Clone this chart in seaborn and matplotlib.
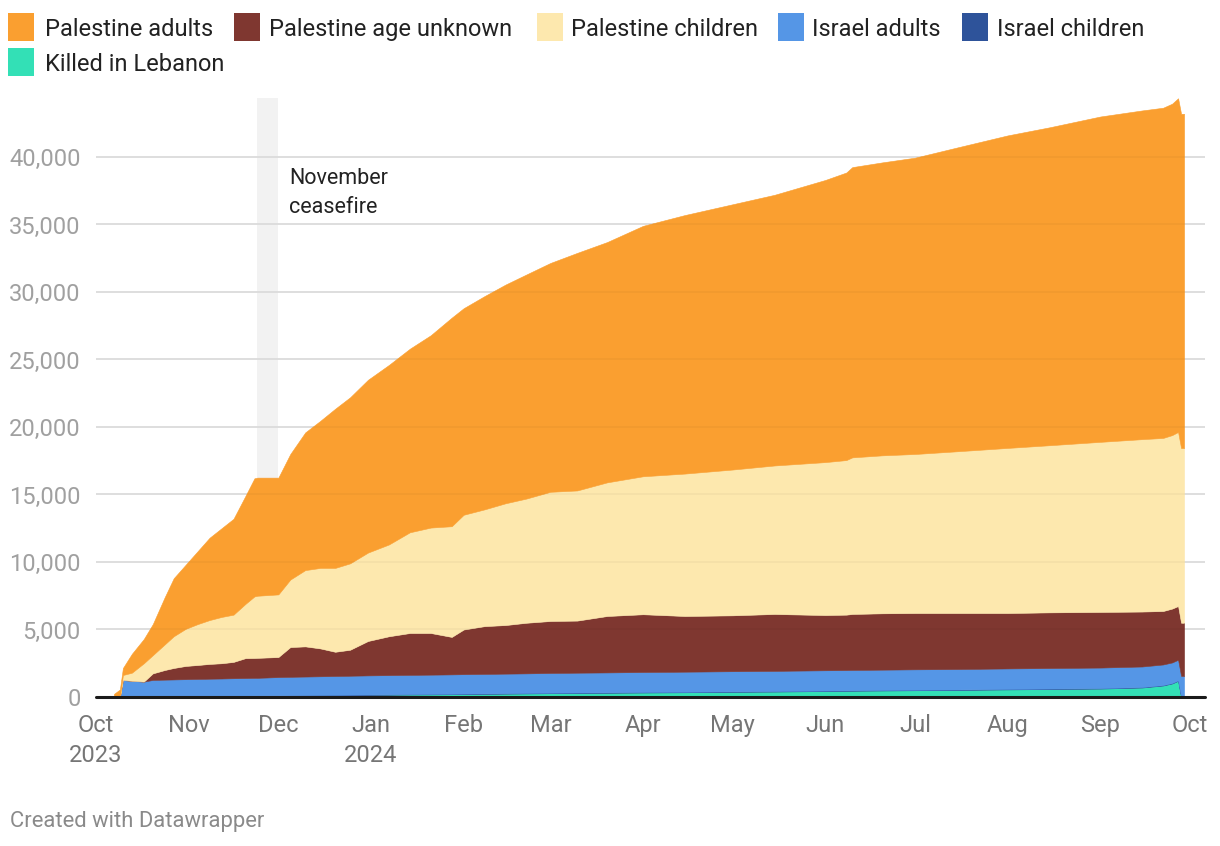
import pandas as pd
import matplotlib
matplotlib.use("Agg")
import matplotlib.pyplot as plt
import seaborn as sns
from matplotlib.patches import Rectangle

# =====================================================
# DATA
# =====================================================

dates = [
    "2023-10-07", "2023-10-09", "2023-10-10", "2023-10-13", "2023-10-17",
    "2023-10-20", "2023-10-24", "2023-10-27", "2023-10-31", "2023-11-04",
    "2023-11-08", "2023-11-12", "2023-11-16", "2023-11-20", "2023-11-23",
    "2023-11-24", "2023-12-01", "2023-12-05", "2023-12-10", "2023-12-15",
    "2023-12-20", "2023-12-25", "2023-12-31", "2024-01-07", "2024-01-14",
    "2024-01-21", "2024-01-28", "2024-02-01", "2024-02-08", "2024-02-15",
    "2024-02-22", "2024-03-01", "2024-03-10", "2024-03-20", "2024-04-01",
    "2024-04-15", "2024-05-01", "2024-05-15", "2024-06-01", "2024-06-08",
    "2024-06-10", "2024-06-20", "2024-07-01", "2024-07-15", "2024-08-01",
    "2024-08-15", "2024-09-01", "2024-09-15", "2024-09-22", "2024-09-25",
    "2024-09-27", "2024-09-28", "2024-09-29",
]

killed_lebanon = [
    0, 0, 0, 0, 10, 15, 25, 30, 40, 50, 55, 60, 70, 75, 80, 80, 85,
    95, 105, 115, 125, 135, 150, 165, 180, 190, 205, 215, 230, 245, 260,
    280, 295, 310, 330, 350, 380, 400, 440, 455, 460, 480, 500, 520, 560,
    590, 620, 700, 850, 1000, 1200, 0, 0,
]

israel_children = [
    0, 0, 36, 36, 36, 36, 36, 36, 36, 36, 36, 36, 36, 36, 36, 36, 36,
    36, 36, 36, 36, 36, 36, 36, 36, 36, 36, 36, 36, 36, 36, 36, 36, 36,
    36, 36, 36, 36, 36, 36, 36, 36, 36, 36, 36, 36, 36, 36, 36, 36, 36,
    36, 36,
]

israel_adults = [
    0, 0, 1224, 1164, 1094, 1214, 1224, 1234, 1244, 1254, 1264, 1274,
    1284, 1294, 1304, 1304, 1354, 1364, 1374, 1384, 1394, 1404, 1414,
    1419, 1424, 1429, 1434, 1439, 1444, 1449, 1454, 1464, 1469, 1474,
    1484, 1489, 1494, 1499, 1504, 1504, 1509, 1509, 1514, 1514, 1519,
    1519, 1524, 1524, 1524, 1524, 1524, 1524, 1524,
]

palestine_unknown = [
    0, 0, 0, 0, 0, 485, 715, 850, 980, 1030, 1095, 1130, 1210, 1475,
    1470, 1480, 1485, 2205, 2235, 2065, 1795, 1925, 2550, 2880, 3100,
    3085, 2775, 3310, 3540, 3600, 3750, 3850, 3860, 4180, 4280, 4125,
    4140, 4215, 4090, 4105, 4145, 4175, 4170, 4150, 4105, 4125, 4120,
    4070, 3960, 3990, 3980, 3940, 3940,
]

palestine_children = [
    0, 0, 370, 600, 1360, 1350, 1900, 2350, 2750, 3030, 3250, 3430, 3500,
    4020, 4560, 4600, 4640, 5000, 5650, 5960, 6210, 6400, 6550, 6800,
    7460, 7810, 8200, 8500, 8650, 9020, 9200, 9570, 9640, 9900, 10220,
    10550, 10800, 11000, 11330, 11450, 11600, 11700, 11780, 11980, 12230,
    12380, 12600, 12770, 12820, 12850, 12890, 12940, 12940,
]

palestine_adults = [
    230, 560, 520, 1400, 1800, 2300, 3500, 4300, 4750, 5400, 6100, 6570,
    7100, 8000, 8750, 8750, 8650, 9300, 10200, 10890, 11790, 12300,
    12800, 13300, 13600, 14250, 15450, 15300, 15800, 16200, 16600, 16950,
    17600, 17800, 18550, 19150, 19650, 20050, 20900, 21300, 21500, 21700,
    21950, 22500, 23150, 23550, 24100, 24350, 24460, 24550, 24720, 24760,
    24760,
]

legend_labels = [
    "Palestine adults", "Palestine age unknown", "Palestine children",
    "Israel adults", "Israel children", "Killed in Lebanon",
]

legend_colors = [
    "#fa9f30", "#7f3730", "#fde8ae", "#5596e6", "#2e539a", "#33e0b6",
]

month_ticks = [
    "2023-10-01", "2023-11-01", "2023-12-01", "2024-01-01", "2024-02-01",
    "2024-03-01", "2024-04-01", "2024-05-01", "2024-06-01", "2024-07-01",
    "2024-08-01", "2024-09-01", "2024-10-01",
]

month_labels = [
    "Oct\n2023", "Nov", "Dec", "Jan\n2024", "Feb", "Mar", "Apr", "May",
    "Jun", "Jul", "Aug", "Sep", "Oct",
]

y_ticks = [0, 5000, 10000, 15000, 20000, 25000, 30000, 35000, 40000]

# =====================================================
# STYLE
# =====================================================

sns.set_theme(style="white")
plt.rcParams["font.family"] = ["Roboto", "DejaVu Sans"]

W, H = 1220, 846

fig = plt.figure(figsize=(W / 100, H / 100), dpi=100)

ax = fig.add_axes([
    96 / W,
    1 - 697 / H,
    (1205 - 96) / W,
    (697 - 98) / H,
])

x = pd.to_datetime(dates)

# stack order bottom -> top
stack_series = [
    killed_lebanon,
    israel_children,
    israel_adults,
    palestine_unknown,
    palestine_children,
    palestine_adults,
]

stack_colors = [
    "#33e0b6", "#2e539a", "#5596e6", "#7f3730", "#fde8ae", "#fa9f30",
]

polys = ax.stackplot(
    x,
    *stack_series,
    colors=stack_colors,
    linewidth=0.4,
    zorder=2,
)

for p, c in zip(polys, stack_colors):
    p.set_edgecolor(c)

# ceasefire band
ax.axvspan(
    pd.Timestamp("2023-11-24"),
    pd.Timestamp("2023-12-01"),
    color="#f2f2f2",
    lw=0,
    zorder=0.5,
)

# gridlines (behind + faint overlay)
for v in y_ticks[1:]:
    ax.axhline(v, color="#e4e4e4", lw=1.3, zorder=1)
    ax.axhline(v, color="black", alpha=0.035, lw=1.3, zorder=3)

ax.axhline(0, color="#1a1a1a", lw=2.2, zorder=4, clip_on=False)

ax.set_xlim(pd.Timestamp("2023-10-01"), pd.Timestamp("2024-10-06"))
ax.set_ylim(0, 44370)

ax.set_xticks(pd.to_datetime(month_ticks))
ax.set_xticklabels(month_labels, linespacing=1.4)

ax.set_yticks(y_ticks)
ax.set_yticklabels([f"{v:,}" for v in y_ticks])

ax.tick_params(axis="x", length=0, pad=12, labelsize=17, labelcolor="#767676")
ax.tick_params(axis="y", length=0, pad=11, labelsize=17, labelcolor="#a0a0a0")

ax.grid(False)
sns.despine(ax=ax, left=True, bottom=True)
ax.set_facecolor("white")

# annotation
fig.text(
    289 / W, 1 - 193 / H,
    "November\nceasefire",
    ha="left", va="center",
    fontsize=15.5, color="#222222",
    linespacing=1.5,
)

# legend (manual, Datawrapper style)
legend_pos = [
    (8, 45, 27),
    (234, 269, 27),
    (537, 571, 27),
    (778, 812, 27),
    (962, 997, 27),
    (8, 45, 62),
]

for (sx, tx, cy), lab, col in zip(legend_pos, legend_labels, legend_colors):
    fig.patches.append(Rectangle(
        (sx / W, 1 - (cy + 14) / H),
        26 / W, 28 / H,
        transform=fig.transFigure,
        facecolor=col, edgecolor="none",
    ))
    fig.text(
        tx / W, 1 - cy / H, lab,
        ha="left", va="center_baseline",
        fontsize=17, color="#222222",
    )

fig.text(
    10 / W, 1 - 821 / H,
    "Created with Datawrapper",
    ha="left", va="center",
    fontsize=15.8, color="#8a8a8a",
)

fig.savefig("out.png", dpi=100, facecolor="white")
